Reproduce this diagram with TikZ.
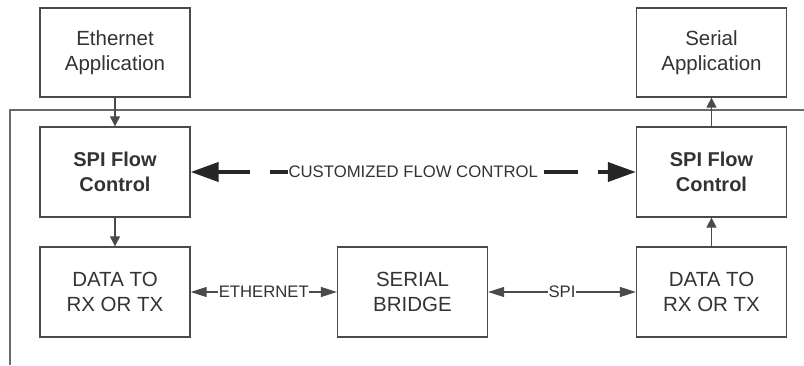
\documentclass[tikz,border=0pt]{standalone}
\usepackage{fontspec}
\setmainfont{Liberation Sans}
\usetikzlibrary{arrows.meta,calc}
\definecolor{txt}{HTML}{333333}
\definecolor{ln}{HTML}{4A4A4A}
\definecolor{frc}{HTML}{6A6A6A}
\begin{document}
\begin{tikzpicture}[x=1pt,y=-1pt,
  box/.style={draw=ln,line width=1.3pt,minimum width=150pt,minimum height=89pt,inner sep=0pt,align=center,text=txt,font=\fontsize{20.5}{25}\selectfont},
  bbox/.style={box,font=\fontsize{20}{25}\selectfont\bfseries},
  lbl/.style={text=txt,font=\fontsize{16.7}{20}\selectfont,inner sep=0.5pt},
  conn/.style={draw=ln,line width=1.2pt},
  vtip/.style={-{Triangle[length=10pt,width=10pt]}},
  htip/.style={{Triangle[length=16pt,width=10pt]}-{Triangle[length=16pt,width=10pt]}},
  fat/.style={draw=black!85,line width=4pt,-{Triangle[length=28pt,width=19pt]}}
]
\useasboundingbox (0,0) rectangle (804,365);
% frame
\coordinate (fa) at (10,365);
\coordinate (fb) at (10,110);
\coordinate (fc) at (804,110);
\draw[frc,line width=1.8pt] (fa) -- (fb) -- (fc);
% boxes
\node[box] (ea) at (115,52.5) {Ethernet\\Application};
\node[box] (sa) at (711.5,52.5) {Serial\\Application};
\node[bbox,minimum height=90pt] (fl) at (115,172) {SPI Flow\\Control};
\node[bbox,minimum height=90pt] (fr) at (711.5,172) {SPI Flow\\Control};
\node[box,minimum height=90pt] (dl) at (115,292) {DATA TO\\RX OR TX};
\node[box,minimum height=90pt] (sb) at (412.5,292) {SERIAL\\BRIDGE};
\node[box,minimum height=90pt] (dr) at (711.5,292) {DATA TO\\RX OR TX};
% vertical arrows
\draw[conn,vtip] (ea.south) -- (fl.north);
\draw[conn,vtip] (fl.south) -- (dl.north);
\draw[conn,vtip] (dr.north) -- (fr.south);
\draw[conn,vtip] (fr.north) -- (sa.south);
% horizontal arrows
\draw[conn,htip] (dl.east) -- node[lbl,fill=white] {ETHERNET} (sb.west);
\draw[conn,htip] (sb.east) -- node[lbl,fill=white] {SPI} (dr.west);
% customized flow control
\node[lbl] (cf) at ($(fl.east)!0.5!(fr.west)$) {CUSTOMIZED FLOW CONTROL};
\draw[fat,dash pattern=on 18pt off 20pt on 200pt] (cf.west) -- (fl.east);
\draw[fat,dash pattern=on 0pt off 5pt on 34pt off 20pt on 200pt] (cf.east) -- (fr.west);
\end{tikzpicture}
\end{document}
